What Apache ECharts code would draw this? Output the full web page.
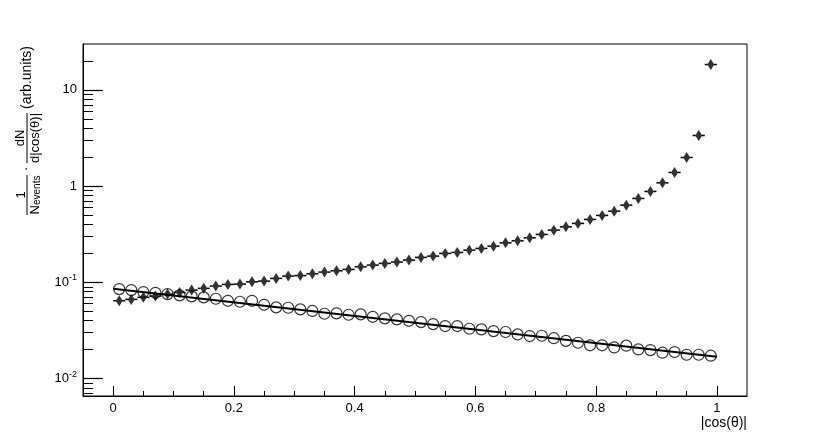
<!DOCTYPE html>
<html>
<head>
<meta charset="utf-8">
<script src="https://cdn.jsdelivr.net/npm/echarts@6/dist/echarts.min.js"></script>
<style>
  html, body { margin: 0; padding: 0; background: #fff; }
  #chart { width: 830px; height: 440px; }
</style>
</head>
<body>
<div id="chart"></div>
<script>
// bin centres of |cos(theta)|, 50 bins of width 0.02
const binCenters = [
  0.01, 0.03, 0.05, 0.07, 0.09, 0.11, 0.13, 0.15, 0.17, 0.19,
  0.21, 0.23, 0.25, 0.27, 0.29, 0.31, 0.33, 0.35, 0.37, 0.39,
  0.41, 0.43, 0.45, 0.47, 0.49, 0.51, 0.53, 0.55, 0.57, 0.59,
  0.61, 0.63, 0.65, 0.67, 0.69, 0.71, 0.73, 0.75, 0.77, 0.79,
  0.81, 0.83, 0.85, 0.87, 0.89, 0.91, 0.93, 0.95, 0.97, 0.99
]
const binHalfWidth = 0.01

// open circles
const openValues = [
  0.0852, 0.0832, 0.0793, 0.0780, 0.0756, 0.0733, 0.0716, 0.0699, 0.0676, 0.0644,
  0.0629, 0.0644, 0.0585, 0.0550, 0.0545, 0.0524, 0.0505, 0.0472, 0.0477, 0.0461,
  0.0465, 0.0439, 0.0423, 0.0413, 0.0399, 0.0387, 0.0369, 0.0352, 0.0352, 0.0330,
  0.0325, 0.0312, 0.0305, 0.0288, 0.0277, 0.0279, 0.0263, 0.0247, 0.0236, 0.0222,
  0.0222, 0.0211, 0.0220, 0.0201, 0.0198, 0.0186, 0.0189, 0.0177, 0.0177, 0.0173
]

// filled diamonds
const filledValues = [
  0.0644, 0.0666, 0.0699, 0.0721, 0.0756, 0.0787, 0.0832, 0.0867, 0.0915, 0.0953,
  0.0960, 0.1014, 0.1031, 0.1100, 0.1162, 0.1177, 0.1228, 0.1279, 0.1320, 0.1365,
  0.1452, 0.1512, 0.1575, 0.1625, 0.1704, 0.1818, 0.1875, 0.2000, 0.2048, 0.2164,
  0.2254, 0.2381, 0.2577, 0.2704, 0.2904, 0.3150, 0.3492, 0.3779, 0.4100, 0.4511,
  0.4963, 0.5500, 0.6348, 0.7454, 0.8810, 1.082, 1.388, 1.986, 3.361, 18.36
]

// fit through the open circles
const fitX = [0, 1]
const fitY = [0.0858, 0.0169]

const xMajorTicks = [0, 0.2, 0.4, 0.6, 0.8, 1]
const xMinorTicks = [0.05, 0.1, 0.15, 0.25, 0.3, 0.35, 0.45, 0.5, 0.55, 0.65, 0.7, 0.75, 0.85, 0.9, 0.95]
const yMajorTicks = [0.01, 0.1, 1, 10]
const yMinorTicks = [
  0.007, 0.008, 0.009,
  0.02, 0.03, 0.04, 0.05, 0.06, 0.07, 0.08, 0.09,
  0.2, 0.3, 0.4, 0.5, 0.6, 0.7, 0.8, 0.9,
  2, 3, 4, 5, 6, 7, 8, 9,
  20
]

const FONT = 'Liberation Sans'
const xMin = -0.05, xMax = 1.05
const yMin = 0.0066, yMax = 30

let chart = echarts.init(document.getElementById('chart'))

const baseX = {
  type: 'value', min: xMin, max: xMax, position: 'bottom',
  splitLine: {show: false}
}
const baseY = {
  type: 'log', logBase: 10, min: yMin, max: yMax, position: 'left',
  splitLine: {show: false}
}

const options = {
  animation: false,
  backgroundColor: '#fff',
  grid: {
    left: 83, right: 83, top: 44, bottom: 44,
    show: true, borderColor: '#000', borderWidth: 1,
    containLabel: false, outerBoundsMode: 'none'
  },
  xAxis: [
    Object.assign({}, baseX, {
      name: '|cos(θ)|',
      nameLocation: 'end',
      nameGap: 0,
      nameTextStyle: {
        fontFamily: FONT, fontSize: 14, color: '#000',
        align: 'right', verticalAlign: 'top', padding: [20, 0, 0, 0]
      },
      axisLine: {show: true, onZero: false, lineStyle: {color: '#000', width: 1}},
      axisTick: {show: true, inside: true, length: 10, customValues: xMajorTicks,
        lineStyle: {color: '#000', width: 1}},
      axisLabel: {customValues: xMajorTicks, margin: 6, color: '#000',
        fontFamily: FONT, fontSize: 13}
    }),
    Object.assign({}, baseX, {
      axisLine: {show: false, onZero: false},
      axisTick: {show: true, inside: true, length: 5, customValues: xMinorTicks,
        lineStyle: {color: '#000', width: 1}},
      axisLabel: {show: false}
    })
  ],
  yAxis: [
    Object.assign({}, baseY, {
      axisLine: {show: true, onZero: false, lineStyle: {color: '#000', width: 1}},
      axisTick: {show: true, inside: true, length: 20, customValues: yMajorTicks,
        lineStyle: {color: '#000', width: 1.2}},
      axisLabel: {
        customValues: yMajorTicks, margin: 6, color: '#000',
        fontFamily: FONT, fontSize: 13,
        formatter: function (v) {
          const e = Math.round(Math.log10(v))
          if (e === 0) return '1'
          if (e === 1) return '10'
          return '{b|10}{s|' + e + '}'
        },
        rich: {
          b: {fontFamily: FONT, fontSize: 13, color: '#000'},
          s: {fontFamily: FONT, fontSize: 9, color: '#000', padding: [0, 0, 9, 0]}
        }
      }
    }),
    Object.assign({}, baseY, {
      axisLine: {show: false, onZero: false},
      axisTick: {show: true, inside: true, length: 10, customValues: yMinorTicks,
        lineStyle: {color: '#000', width: 1}},
      axisLabel: {show: false}
    })
  ],
  graphic: [
    {
      // y-axis title, written bottom to top
      type: 'group', x: 0, y: 215, rotation: Math.PI / 2,
      children: [
        {type: 'text', x: 20, y: 21, style: {text: '1', fontFamily: FONT, fontSize: 13,
          fill: '#000', align: 'center', verticalAlign: 'middle'}},
        {type: 'line', shape: {x1: 0, y1: 27, x2: 40, y2: 27}, style: {stroke: '#000', lineWidth: 1}},
        {type: 'text', x: 20, y: 35, style: {
          text: '{n|N}{s|events}', align: 'center', verticalAlign: 'middle',
          rich: {
            n: {fontFamily: FONT, fontSize: 13, fill: '#000'},
            s: {fontFamily: FONT, fontSize: 10, fill: '#000', padding: [5, 0, 0, 0]}
          }
        }},
        {type: 'text', x: 46, y: 26, style: {text: '·', fontFamily: FONT, fontSize: 14,
          fill: '#000', align: 'center', verticalAlign: 'middle'}},
        {type: 'text', x: 77, y: 20, style: {text: 'dN', fontFamily: FONT, fontSize: 13,
          fill: '#000', align: 'center', verticalAlign: 'middle'}},
        {type: 'line', shape: {x1: 52, y1: 27, x2: 102, y2: 27}, style: {stroke: '#000', lineWidth: 1}},
        {type: 'text', x: 77, y: 35, style: {text: 'd|cos(θ)|', fontFamily: FONT, fontSize: 13,
          fill: '#000', align: 'center', verticalAlign: 'middle'}},
        {type: 'text', x: 106, y: 27, style: {text: '(arb.units)', fontFamily: FONT, fontSize: 14,
          fill: '#000', align: 'left', verticalAlign: 'middle'}}
      ]
    }
  ],
  series: [
    {
      name: 'fit',
      type: 'line',
      data: fitX.map((x, i) => [x, fitY[i]]),
      showSymbol: false,
      lineStyle: {color: '#000', width: 2},
      z: 2
    },
    {
      name: 'open',
      type: 'scatter',
      data: binCenters.map((x, i) => [x, openValues[i]]),
      symbol: 'circle',
      symbolSize: 11,
      itemStyle: {color: 'rgba(0,0,0,0)', borderColor: '#000', borderWidth: 1.2},
      z: 3
    },
    {
      name: 'filled error',
      type: 'custom',
      data: binCenters.map((x, i) => [x, filledValues[i]]),
      renderItem: function (params, api) {
        const mid = api.coord([api.value(0), api.value(1)])
        const lo = api.coord([api.value(0) - binHalfWidth, api.value(1)])
        const hi = api.coord([api.value(0) + binHalfWidth, api.value(1)])
        const dashed = {stroke: '#000', lineWidth: 1.5, lineDash: [3, 3]}
        return {
          type: 'group',
          children: [
            {type: 'line', shape: {x1: lo[0], y1: lo[1], x2: mid[0], y2: mid[1]}, style: dashed},
            {type: 'line', shape: {x1: hi[0], y1: hi[1], x2: mid[0], y2: mid[1]}, style: dashed}
          ]
        }
      },
      z: 3
    },
    {
      name: 'filled',
      type: 'scatter',
      data: binCenters.map((x, i) => [x, filledValues[i]]),
      symbol: 'diamond',
      symbolSize: [7, 11],
      itemStyle: {color: '#000'},
      z: 4
    }
  ]
}

chart.setOption(options)
window.addEventListener('resize', function () {
  chart.resize()
})
</script>
</body>
</html>
